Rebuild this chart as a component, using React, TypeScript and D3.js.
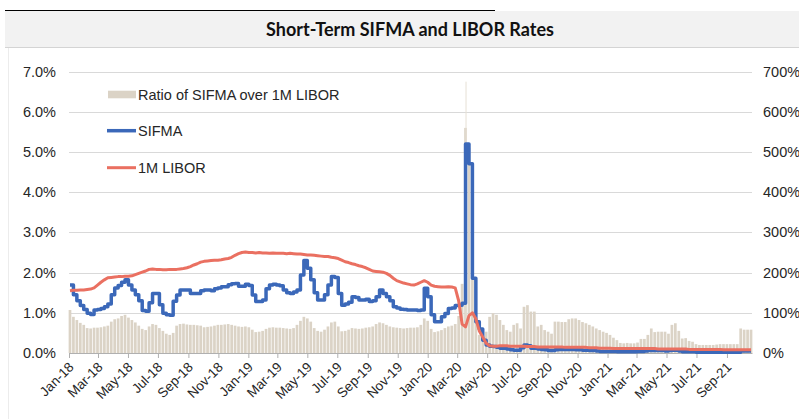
import { useEffect, useRef } from "react";
import * as d3 from "d3";

// weekly resets, first one on Wed 3 Jan 2018
const firstWeek = "2018-01-03";

// SIFMA rate, %
const sifma = [
  1.69, 1.45, 1.3, 1.18, 1.08, 0.99, 0.96, 1.07, 1.08, 1.11,
  1.15, 1.22, 1.45, 1.62, 1.68, 1.76, 1.82, 1.69, 1.57, 1.45,
  1.3, 1.06, 1.04, 1.25, 1.48, 1.48, 1.2, 0.99, 0.95, 0.94,
  1.29, 1.44, 1.57, 1.57, 1.57, 1.48, 1.48, 1.48, 1.55, 1.57,
  1.57, 1.55, 1.6, 1.62, 1.65, 1.65, 1.7, 1.72, 1.73, 1.66,
  1.66, 1.71, 1.68, 1.44, 1.28, 1.28, 1.32, 1.6, 1.69, 1.71,
  1.69, 1.67, 1.57, 1.5, 1.48, 1.52, 1.57, 1.94, 2.3, 2.11,
  1.82, 1.5, 1.32, 1.32, 1.45, 1.69, 1.9, 1.88, 1.48, 1.19,
  1.22, 1.26, 1.4, 1.38, 1.32, 1.32, 1.34, 1.28, 1.3, 1.4,
  1.57, 1.48, 1.4, 1.3, 1.15, 1.12, 1.09, 1.08, 1.07, 1.07,
  1.07, 1.06, 1.07, 1.61, 1.4, 0.95, 0.78, 0.78, 0.9, 0.98,
  1.11, 1.12, 1.18, 1.19, 1.24, 5.2, 4.71, 1.86, 0.78, 0.6,
  0.32, 0.2, 0.17, 0.16, 0.14, 0.12, 0.12, 0.1, 0.08, 0.07,
  0.07, 0.13, 0.2, 0.18, 0.12, 0.12, 0.1, 0.09, 0.08, 0.06,
  0.06, 0.08, 0.09, 0.09, 0.09, 0.09, 0.09, 0.08, 0.08, 0.07,
  0.07, 0.06, 0.06, 0.05, 0.04, 0.04, 0.04, 0.04, 0.04, 0.03,
  0.03, 0.03, 0.03, 0.03, 0.03, 0.04, 0.04, 0.05, 0.06, 0.06,
  0.06, 0.06, 0.06, 0.05, 0.06, 0.07, 0.07, 0.05, 0.03, 0.03,
  0.03, 0.03, 0.02, 0.02, 0.02, 0.02, 0.02, 0.02, 0.02, 0.02,
  0.02, 0.02, 0.02, 0.02, 0.02, 0.05, 0.05, 0.05, 0.05,
];

// 1M LIBOR, %
const libor = [
  1.55, 1.56, 1.56, 1.57, 1.57, 1.58, 1.59, 1.62, 1.69, 1.76,
  1.82, 1.87, 1.88, 1.89, 1.9, 1.9, 1.91, 1.91, 1.92, 1.95,
  1.98, 2.01, 2.04, 2.08, 2.09, 2.08, 2.08, 2.07, 2.07, 2.08,
  2.08, 2.08, 2.09, 2.1, 2.12, 2.15, 2.19, 2.22, 2.26, 2.28,
  2.29, 2.3, 2.31, 2.31, 2.32, 2.34, 2.35, 2.38, 2.43, 2.47,
  2.5, 2.51, 2.5, 2.5, 2.49, 2.5, 2.49, 2.49, 2.48, 2.49,
  2.48, 2.48, 2.48, 2.47, 2.48, 2.47, 2.46, 2.46, 2.45, 2.44,
  2.44, 2.43, 2.42, 2.41, 2.4, 2.4, 2.38, 2.37, 2.35, 2.31,
  2.27, 2.25, 2.22, 2.2, 2.17, 2.15, 2.12, 2.08, 2.04, 2.03,
  2.02, 2.01, 1.98, 1.93, 1.86, 1.8, 1.77, 1.74, 1.72, 1.7,
  1.69, 1.72, 1.76, 1.8, 1.76, 1.69, 1.66, 1.65, 1.64, 1.64,
  1.65, 1.64, 1.62, 1.3, 0.72, 0.65, 0.93, 1.0, 0.85, 0.55,
  0.4, 0.24, 0.18, 0.17, 0.17, 0.18, 0.18, 0.18, 0.17, 0.17,
  0.17, 0.17, 0.17, 0.16, 0.16, 0.16, 0.15, 0.15, 0.15, 0.15,
  0.15, 0.15, 0.15, 0.15, 0.14, 0.14, 0.14, 0.14, 0.14, 0.14,
  0.14, 0.13, 0.13, 0.13, 0.12, 0.12, 0.12, 0.12, 0.11, 0.11,
  0.11, 0.11, 0.11, 0.11, 0.11, 0.11, 0.11, 0.11, 0.11, 0.11,
  0.11, 0.1, 0.1, 0.1, 0.1, 0.1, 0.1, 0.1, 0.1, 0.1,
  0.09, 0.09, 0.09, 0.09, 0.09, 0.09, 0.09, 0.09, 0.09, 0.09,
  0.08, 0.08, 0.08, 0.08, 0.08, 0.08, 0.08, 0.08, 0.08,
];

// ratio of SIFMA over 1M LIBOR, % (right axis)
const ratio = [
  107, 90, 82, 75, 70, 62, 61, 63, 63, 64,
  66, 68, 78, 84, 86, 92, 95, 88, 82, 76,
  68, 60, 57, 66, 72, 70, 62, 55, 48, 45,
  50, 68, 72, 73, 71, 70, 70, 69, 68, 64,
  65, 66, 68, 70, 70, 71, 72, 70, 68, 66,
  65, 66, 64, 58, 52, 53, 55, 60, 63, 64,
  63, 63, 62, 61, 60, 62, 70, 80, 90, 86,
  78, 62, 55, 53, 58, 66, 76, 78, 66, 54,
  55, 58, 62, 61, 60, 61, 63, 64, 66, 72,
  76, 74, 70, 66, 64, 63, 62, 61, 62, 63,
  63, 64, 70, 86, 80, 60, 52, 54, 57, 62,
  66, 68, 72, 92, 172, 560, 510, 200, 80, 45,
  28, 53, 90, 99, 95, 82, 70, 57, 53, 70,
  74, 61, 115, 119, 103, 103, 66, 70, 57, 53,
  48, 78, 78, 77, 77, 84, 86, 86, 82, 77,
  74, 70, 66, 61, 57, 53, 50, 45, 38, 32,
  25, 24, 25, 24, 24, 26, 35, 35, 45, 61,
  52, 53, 53, 53, 48, 70, 74, 55, 36, 37,
  30, 28, 22, 20, 20, 20, 20, 20, 21, 22,
  22, 22, 22, 22, 22, 61, 58, 58, 58,
];

// single-day peak of the ratio in March 2020
const ratioPeak = [{ date: "2020-03-19", value: 675 }];

const leftTicks = [0, 1, 2, 3, 4, 5, 6, 7];
const rightTicks = [0, 100, 200, 300, 400, 500, 600, 700];
const legendItems = ["Ratio of SIFMA over 1M LIBOR", "SIFMA", "1M LIBOR"];
const title = "Short-Term SIFMA and LIBOR Rates";

const W = 799;
const H = 419;
const FONT = "'Liberation Sans', Arial, sans-serif";

const App = () => {
  const svgRef = useRef<SVGSVGElement>(null);

  useEffect(() => {
    const svg = d3.select(svgRef.current);
    svg.selectAll("*").remove();

    const plot = { left: 69, right: 752, top: 71.6, bottom: 353 };
    const start = new Date(firstWeek + "T00:00:00Z");
    const dates = sifma.map((_, i) => d3.utcDay.offset(start, 7 * i));

    const x = d3
      .scaleUtc()
      .domain([new Date(Date.UTC(2018, 0, 1)), new Date(Date.UTC(2021, 9, 22))])
      .range([plot.left, plot.right]);
    const yL = d3.scaleLinear().domain([0, 7]).range([plot.bottom, plot.top]);
    const yR = d3.scaleLinear().domain([0, 700]).range([plot.bottom, plot.top]);

    // title band
    svg.append("rect").attr("x", 5).attr("y", 11).attr("width", W - 5).attr("height", 36).attr("fill", "#f2f2f2");
    svg.append("line").attr("x1", 5).attr("x2", W).attr("y1", 47.5).attr("y2", 47.5).attr("stroke", "#d4d4d4");
    svg.append("line").attr("x1", 5).attr("x2", 495).attr("y1", 10.5).attr("y2", 10.5).attr("stroke", "#000");
    svg.append("line").attr("x1", 8.5).attr("x2", 8.5).attr("y1", 48).attr("y2", H).attr("stroke", "#ececec");
    svg
      .append("text")
      .attr("x", 410)
      .attr("y", 36)
      .attr("text-anchor", "middle")
      .style("font-family", "Lato, 'Open Sans', sans-serif")
      .style("font-weight", "bold")
      .style("font-size", "18px")
      .attr("fill", "#111")
      .text(title);

    // gridlines
    svg
      .append("g")
      .selectAll("line")
      .data(leftTicks.slice(1))
      .join("line")
      .attr("x1", plot.left)
      .attr("x2", plot.right)
      .attr("y1", (d) => Math.round(yL(d)) + 0.5)
      .attr("y2", (d) => Math.round(yL(d)) + 0.5)
      .attr("stroke", "#d9d9d9")
      .attr("stroke-width", 1);

    // left labels
    svg
      .append("g")
      .selectAll("text")
      .data(leftTicks)
      .join("text")
      .attr("x", 56)
      .attr("y", (d) => yL(d))
      .attr("dy", "0.35em")
      .attr("text-anchor", "end")
      .style("font-family", FONT)
      .style("font-size", "14.5px")
      .attr("fill", "#262626")
      .text((d) => d3.format(".1f")(d) + "%");

    // right labels
    svg
      .append("g")
      .selectAll("text")
      .data(rightTicks)
      .join("text")
      .attr("x", 763)
      .attr("y", (d) => yR(d))
      .attr("dy", "0.35em")
      .style("font-family", FONT)
      .style("font-size", "14.5px")
      .attr("fill", "#262626")
      .text((d) => d + "%");

    // ratio bars
    const barW = 2.7;
    svg
      .append("g")
      .selectAll("rect")
      .data(ratio)
      .join("rect")
      .attr("x", (_, i) => x(dates[i]) - barW / 2)
      .attr("y", (d) => yR(d))
      .attr("width", barW)
      .attr("height", (d) => plot.bottom - yR(d))
      .attr("fill", "#dbd3c6");

    svg
      .append("g")
      .selectAll("rect")
      .data(ratioPeak)
      .join("rect")
      .attr("x", (d) => x(new Date(d.date + "T00:00:00Z")) - 0.5)
      .attr("y", (d) => yR(d.value))
      .attr("width", 1)
      .attr("height", (d) => plot.bottom - yR(d.value))
      .attr("fill", "#e6e0d6");

    // x axis
    const ticks = d3.utcMonth.every(2)!.range(new Date(Date.UTC(2018, 0, 1)), new Date(Date.UTC(2021, 9, 1)));
    const xAxis = svg
      .append("g")
      .attr("transform", `translate(0,${plot.bottom})`)
      .call(
        d3
          .axisBottom(x)
          .tickValues(ticks)
          .tickFormat((d) => d3.utcFormat("%b-%y")(d as Date))
          .tickSize(5)
          .tickSizeOuter(0)
      );
    xAxis.select(".domain").attr("stroke", "#b0b0b0");
    xAxis.selectAll(".tick line").attr("stroke", "#b0b0b0");
    xAxis
      .selectAll(".tick text")
      .attr("y", 0)
      .attr("dy", 0)
      .attr("text-anchor", "end")
      .attr("transform", "translate(5,15) rotate(-45)")
      .style("font-family", FONT)
      .style("font-size", "13.5px")
      .attr("fill", "#262626");

    // lines
    const sifmaLine = d3
      .line<number>()
      .x((_, i) => x(dates[i]))
      .y((d) => yL(d))
      .curve(d3.curveStepAfter);
    const liborLine = d3
      .line<number>()
      .x((_, i) => x(dates[i]))
      .y((d) => yL(d));

    svg
      .append("path")
      .datum(sifma)
      .attr("d", sifmaLine)
      .attr("fill", "none")
      .attr("stroke", "#3b68b9")
      .attr("stroke-width", 3.5)
      .attr("stroke-linejoin", "round");

    svg
      .append("path")
      .datum(libor)
      .attr("d", liborLine)
      .attr("fill", "none")
      .attr("stroke", "#ea7061")
      .attr("stroke-width", 3)
      .attr("stroke-linejoin", "round");

    // legend
    const legend = svg.append("g").style("font-family", FONT).style("font-size", "14.5px");
    const rows = [94.5, 130.7, 167.7];
    legend.append("rect").attr("x", 108).attr("y", 90.7).attr("width", 28).attr("height", 7.6).attr("fill", "#dbd3c6");
    legend.append("line").attr("x1", 107).attr("x2", 136).attr("y1", rows[1]).attr("y2", rows[1]).attr("stroke", "#3b68b9").attr("stroke-width", 3.5);
    legend.append("line").attr("x1", 107).attr("x2", 136).attr("y1", rows[2]).attr("y2", rows[2]).attr("stroke", "#ea7061").attr("stroke-width", 3);
    legend
      .selectAll("text")
      .data(legendItems)
      .join("text")
      .attr("x", 138)
      .attr("y", (_, i) => rows[i])
      .attr("dy", "0.35em")
      .attr("fill", "#262626")
      .text((d) => d);
  }, []);

  return (
    <svg
      ref={svgRef}
      width={W}
      height={H}
      style={{ position: "absolute", left: 0, top: 0, background: "#fff" }}
    ></svg>
  );
};

export default App;
